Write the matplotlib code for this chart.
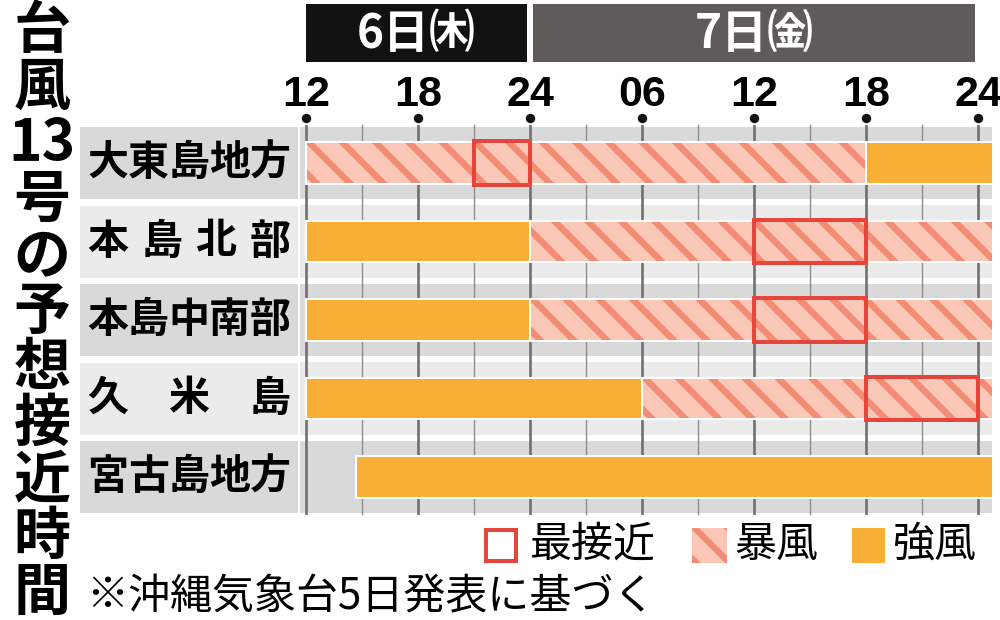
import matplotlib
matplotlib.use('Agg')
import matplotlib.pyplot as plt
from matplotlib.patches import Rectangle
from matplotlib.transforms import blended_transform_factory

plt.rcParams['font.family'] = ['Noto Sans CJK JP', 'DejaVu Sans']
plt.rcParams['hatch.linewidth'] = 4.6

# hours counted from 12:00 on the 6th (36 = 24:00 on the 7th, 37 = runs past the chart)
regions = ['大東島地方', '本島北部', '本島中南部', '久米島', '宮古島地方']
storm_start = [0, 12, 12, 18, None]
storm_end = [30, 37, 37, 37, None]
strong_start = [30, 0, 0, 0, 2.7]
strong_end = [37, 12, 12, 18, 37]
closest_start = [9, 24, 24, 30, None]
closest_end = [12, 30, 30, 36, None]

tick_hours = [0, 6, 12, 18, 24, 30, 36]
tick_labels = ['12', '18', '24', '06', '12', '18', '24']
days = ['6日㈭', '7日㈮']
day_start = [0, 12]
day_end = [12, 36]

title = ['台', '風', '13', '号', 'の', '予', '想', '接', '近', '時', '間']
legend_labels = ['最接近', '暴風', '強風']
note = '※沖縄気象台5日発表に基づく'

ORANGE = '#F9AE35'
STORM_LIGHT = '#FBC8B8'
STORM_DARK = '#F48C74'
RED = '#E5453B'
GREY_DARK = '#D9D9D9'
GREY_LIGHT = '#EBEBEB'
NARROW = ['Liberation Sans Narrow', 'Liberation Sans', 'DejaVu Sans']

DPI = 100
PT = 72 / DPI  # points per pixel
fig = plt.figure(figsize=(1000 / DPI, 620 / DPI), dpi=DPI)

# page layer in pixel coords for the frame, labels and legend
page = fig.add_axes([0, 0, 1, 1], zorder=0)
page.axis('off')

# chart area: x in hours, y in rows
X0, HOUR_PX = 306, 672 / 36
ROW_Y0, ROW_STEP = 163, 78.5
ax = fig.add_axes([300 / 1000, 1 - 515 / 620, 692 / 1000, 390 / 620], zorder=1)
ax.axis('off')

shades = [GREY_DARK, GREY_LIGHT]
for i, name in enumerate(regions):
    shade = shades[i % 2]
    yc = ROW_Y0 + ROW_STEP * i
    ax.axhspan(i - 0.46, i + 0.46, color=shade, lw=0, zorder=0)
    page.add_patch(Rectangle((80, yc - 36), 218, 72, color=shade, lw=0))
    chars = list(name)
    n = len(chars)
    for k, ch in enumerate(chars):
        cx = 108 + (270 - 108) * k / (n - 1)
        page.text(cx, yc, ch, fontsize=41 * PT, weight='bold', ha='center', va='center')

for h in range(0, 37, 3):
    major = h % 6 == 0
    ax.axvline(h, color='#6f6f6f' if major else '#8c8c8c',
               lw=(2.6 if major else 1.4) * PT, zorder=1)

BAR_H = 0.53
for i in range(len(regions)):
    if storm_start[i] is not None:
        w = storm_end[i] - storm_start[i]
        ax.barh(i, w, left=storm_start[i], height=BAR_H, color=STORM_LIGHT, lw=0, zorder=2)
        ax.barh(i, w, left=storm_start[i], height=BAR_H, color='none',
                edgecolor=STORM_DARK, hatch='\\', lw=0, zorder=3)
        ax.barh(i, w, left=storm_start[i], height=BAR_H, fill=False,
                edgecolor='white', lw=2 * PT, zorder=4)
    if strong_start[i] is not None:
        w = strong_end[i] - strong_start[i]
        ax.barh(i, w, left=strong_start[i], height=BAR_H, color=ORANGE,
                edgecolor='white', lw=2 * PT, zorder=4)
    if closest_start[i] is not None:
        ax.barh(i, closest_end[i] - closest_start[i], left=closest_start[i], height=0.56,
                fill=False, edgecolor=RED, lw=4 * PT, zorder=5)

ax.set_xlim((300 - X0) / HOUR_PX, (992 - X0) / HOUR_PX)
ax.set_ylim((515 - ROW_Y0) / ROW_STEP, (125 - ROW_Y0) / ROW_STEP)

# time axis on top: hours across, pixels down
trans = blended_transform_factory(ax.transData, page.transData)
page.plot(tick_hours, [118] * len(tick_hours), 'o', color='#111111', ms=8 * PT,
          transform=trans, clip_on=False)
for h, lab in zip(tick_hours, tick_labels):
    page.text(h, 106, lab, transform=trans, fontsize=43 * PT, family=NARROW,
              weight='bold', ha='center', va='baseline')

day_colors = ['#111111', '#5F5B58']
for s, e, d, c in zip(day_start, day_end, days, day_colors):
    left = s + (0.15 if s > 0 else 0)
    right = e - 0.15
    page.add_patch(Rectangle((left, 4), right - left, 58, transform=trans, color=c, lw=0))
    page.text((left + right) / 2, 34, d, transform=trans, color='white',
              fontsize=46 * PT, weight='bold', ha='center', va='center')

# vertical title, one character (or "13") per line
page.text(42, 312, '\n'.join(title), fontsize=57 * PT, weight='bold',
          ha='center', va='center', multialignment='center', linespacing=0.96)

# legend
page.add_patch(Rectangle((486, 530), 30, 31, fill=False, edgecolor=RED, lw=4 * PT))
page.add_patch(Rectangle((692, 528), 35, 35, color=STORM_LIGHT, lw=0))
page.add_patch(Rectangle((692, 528), 35, 35, facecolor='none', edgecolor=STORM_DARK,
                         hatch='\\', lw=0))
page.add_patch(Rectangle((852, 528), 33, 35, color=ORANGE, lw=0))
for x, lab in zip([530, 734, 892], legend_labels):
    page.text(x, 545, lab, fontsize=42 * PT, ha='left', va='center')

page.text(86, 597, note, fontsize=42 * PT, ha='left', va='center')

page.set_xlim(0, 1000)
page.set_ylim(620, 0)

fig.savefig('out.png', dpi=DPI)
